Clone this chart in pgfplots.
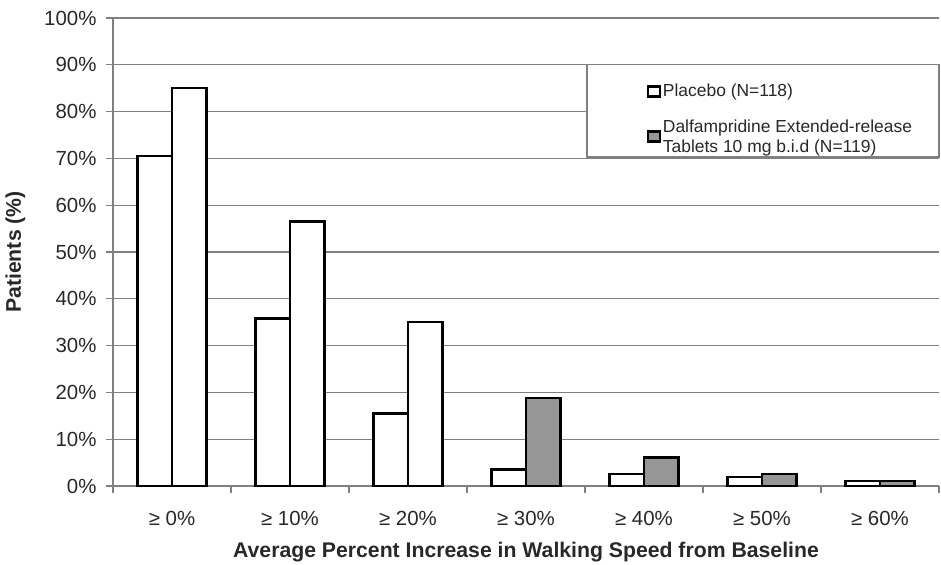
\documentclass[border=0pt]{standalone}
\usepackage{pgfplots}
\pgfplotsset{compat=1.18}
\usepackage{fontspec}
\setmainfont{Liberation Sans}
\definecolor{gridgray}{RGB}{128,128,128}
\definecolor{bargray}{RGB}{150,150,150}
\definecolor{txt}{RGB}{40,40,40}
\begin{document}
\begin{tikzpicture}
\path[use as bounding box] (-113bp,-79bp) rectangle (828bp,486bp);
\begin{axis}[
  at={(0,0)}, anchor=south west,
  scale only axis, width=826bp, height=468bp,
  xmin=-0.5, xmax=6.5, ymin=0, ymax=100,
  axis x line*=bottom, axis y line*=left,
  axis line style={gridgray, line width=1.2bp},
  ytick={0,10,...,100},
  yticklabel={\pgfmathprintnumber{\tick}\%},
  ymajorgrids, grid style={gridgray, line width=1.2bp},
  xtick={0,...,6},
  xticklabels={≥ 0\%, ≥ 10\%, ≥ 20\%, ≥ 30\%, ≥ 40\%, ≥ 50\%, ≥ 60\%},
  minor xtick={-0.5,0.5,...,6.5},
  major x tick style={draw=none},
  minor x tick style={gridgray, line width=1.2bp},
  y tick style={gridgray, line width=1.2bp},
  tick align=outside, major tick length=7bp, minor tick length=7bp,
  ticklabel style={font=\fontsize{20.5}{24}\selectfont, text=txt},
  /pgf/number format/assume math mode=true,
  yticklabel style={xshift=-6bp},
  xticklabel style={yshift=-15bp},
  xlabel={\bfseries Average Percent Increase in Walking Speed from Baseline},
  ylabel={\bfseries Patients (\%)},
  label style={font=\fontsize{21.3}{24}\selectfont, text=txt},
  xlabel style={yshift=-9bp},
  ylabel style={yshift=12bp},
  ybar, bar width=34.5bp,
  legend style={at={(axis cs:4.02,86.3)}, anchor=north west, draw=none, fill=none,
    inner sep=0pt, font=\fontsize{17.5}{20.5}\selectfont, text=txt, row sep=17bp,
    nodes={inner xsep=2bp},
    cells={anchor=west, align=left}},
  legend image code/.code={\draw[#1, line width=2.4bp] (0bp,-5bp) rectangle (12bp,5bp);},
  clip=false,
]
\draw[gridgray, line width=1.2bp, fill=white] (axis cs:3.517,70.3) rectangle (axis cs:6.5,90);
\addplot[bar shift=-17.25bp, draw=black, line width=2.4bp, fill=white]
  coordinates {(0,70.5) (1,35.8) (2,15.5) (3,3.5) (4,2.6) (5,1.9) (6,1.1)};
\addlegendentry{Placebo (N=118)}
\addplot[forget plot, bar shift=17.25bp, draw=black, line width=2.4bp, fill=white]
  coordinates {(0,85.0) (1,56.5) (2,35.0)};
\addplot[bar shift=17.25bp, draw=black, line width=2.4bp, fill=bargray]
  coordinates {(3,18.8) (4,6.1) (5,2.6) (6,1.1)};
\addlegendentry{Dalfampridine Extended-release\\Tablets 10 mg b.i.d (N=119)}
\end{axis}
\end{tikzpicture}
\end{document}
